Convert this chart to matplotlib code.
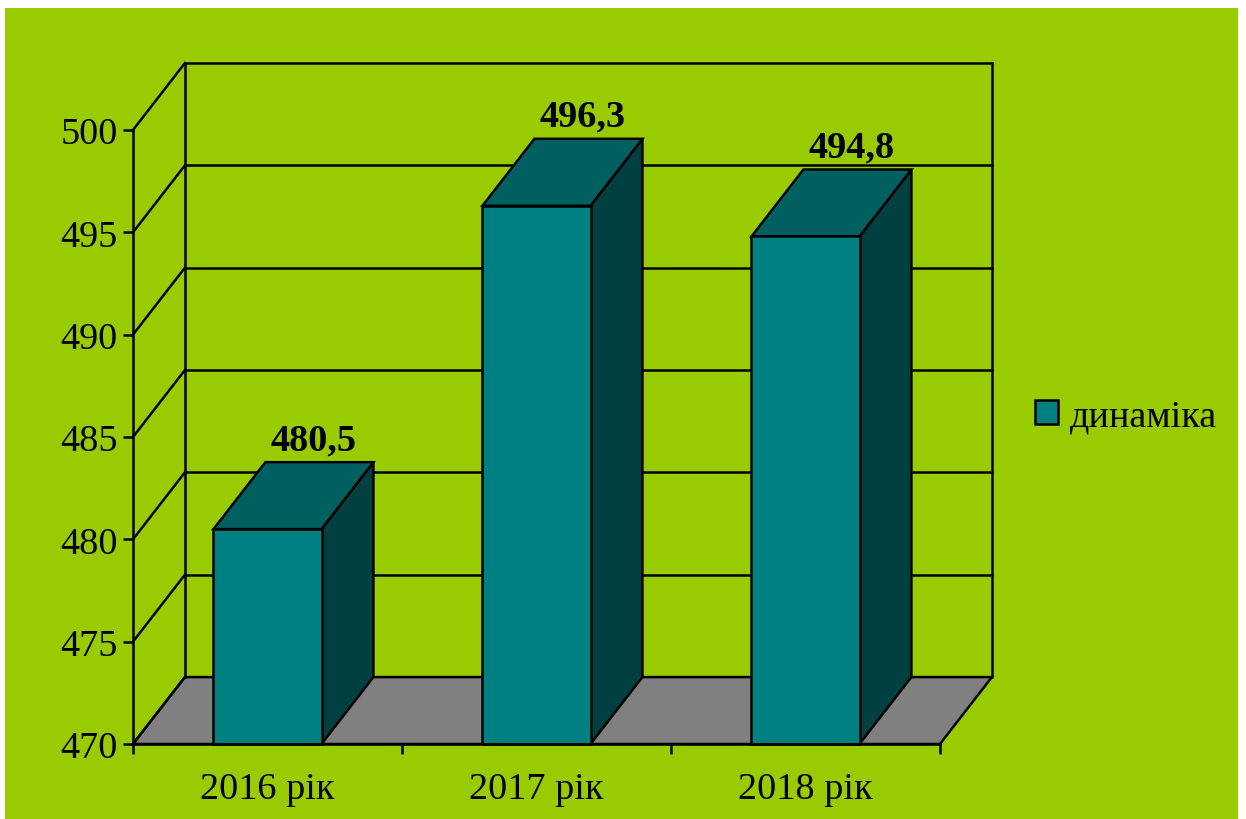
import matplotlib
matplotlib.use("Agg")
import matplotlib.pyplot as plt
from matplotlib.patches import Rectangle, Polygon

# data
years = ["2016 рік", "2017 рік", "2018 рік"]
values = [480.5, 496.3, 494.8]
labels = ["480,5", "496,3", "494,8"]
series_name = "динаміка"
y_ticks = [470, 475, 480, 485, 490, 495, 500]

# style
bg_green = "#99CC00"
front_col = "#008080"
side_col = "#004040"
top_col = "#006060"
floor_col = "#808080"
lw = 1.8
fs = 27.5

plt.rcParams["font.family"] = ["Liberation Serif", "DejaVu Serif"]
plt.rcParams["font.size"] = fs

fig = plt.figure(figsize=(12.46, 8.2), dpi=100)
fig.patch.set_facecolor("white")
fig.patches.append(Rectangle((5 / 1246, -0.01), 1233 / 1246, 811 / 820 + 0.01,
                             transform=fig.transFigure, facecolor=bg_green,
                             edgecolor="none", zorder=-10))

ax = fig.add_axes([133 / 1246, 75 / 820, 807 / 1246, 614 / 820])
ax.set_facecolor("none")
y0, y1 = y_ticks[0], y_ticks[-1]
n = len(years)
ax.set_xlim(0, n)
ax.set_ylim(y0, y1)

# depth offset for the 3d look (in data units)
dx = 0.193
dv = 3.27
w = 0.4015

kw = dict(clip_on=False, color="black", lw=lw, solid_capstyle="projecting")

# floor
ax.add_patch(Polygon([(0, y0), (n, y0), (n + dx, y0 + dv), (dx, y0 + dv)],
                     closed=True, facecolor=floor_col, edgecolor="black",
                     lw=lw, clip_on=False, zorder=1))

# walls and gridlines
for v in y_ticks:
    ax.plot([0, dx], [v, v + dv], zorder=2, **kw)
    if v > y0:
        ax.plot([dx, n + dx], [v + dv, v + dv], zorder=2, **kw)
ax.plot([dx, dx], [y0 + dv, y1 + dv], zorder=2, **kw)
ax.plot([n + dx, n + dx], [y0 + dv, y1 + dv], zorder=2, **kw)

# bars
for i, v in enumerate(values):
    c = i + 0.5
    l, r = c - w / 2, c + w / 2
    ax.add_patch(Polygon([(r, y0), (r + dx, y0 + dv), (r + dx, v + dv), (r, v)],
                         closed=True, facecolor=side_col, edgecolor="black",
                         lw=lw, clip_on=False, zorder=3))
    ax.add_patch(Polygon([(l, v), (r, v), (r + dx, v + dv), (l + dx, v + dv)],
                         closed=True, facecolor=top_col, edgecolor="black",
                         lw=lw, clip_on=False, zorder=3))
    ax.add_patch(Rectangle((l, y0), w, v - y0, facecolor=front_col,
                           edgecolor="black", lw=lw, clip_on=False, zorder=4,
                           label=series_name if i == 0 else None))
    ax.text(c + 0.171, v + dv + 1.1, labels[i], ha="center", va="center",
            fontweight="bold", fontsize=fs, zorder=5)

# axes
for s in ["top", "right"]:
    ax.spines[s].set_visible(False)
for s in ["left", "bottom"]:
    ax.spines[s].set_linewidth(lw)
    ax.spines[s].set_zorder(6)
ax.set_yticks(y_ticks)
ax.set_xticks(range(n + 1))
ax.set_xticklabels([])
ax.set_xticks([i + 0.5 for i in range(n)], minor=True)
ax.set_xticklabels(years, minor=True)
ax.tick_params(axis="y", length=7, width=lw, pad=4)
ax.tick_params(axis="x", which="major", length=7, width=lw)
ax.tick_params(axis="x", which="minor", length=0, pad=20)

leg = ax.legend(loc="center left", bbox_to_anchor=(1035 / 1246, 1 - 417 / 820),
                bbox_transform=fig.transFigure, frameon=False,
                handlelength=0.6, handleheight=0.6, handletextpad=0.3,
                borderaxespad=0, borderpad=0, fontsize=fs)

fig.savefig("out.png", dpi=100)
